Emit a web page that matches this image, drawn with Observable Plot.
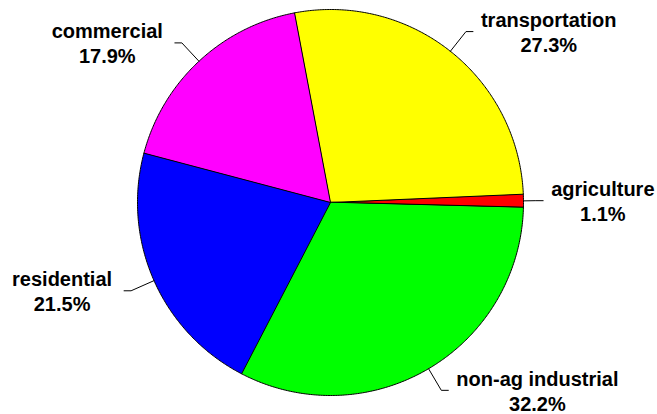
<!DOCTYPE html>
<html>
<head>
<meta charset="utf-8">
<script src="https://cdn.jsdelivr.net/npm/d3@7"></script>
<script src="https://cdn.jsdelivr.net/npm/@observablehq/plot@0.6"></script>
<style>
  html, body { margin: 0; padding: 0; background: #fff; }
  svg { display: block; }
</style>
</head>
<body>
<div id="chart"></div>
<script>
// ---- data ----
const categories = ["agriculture", "transportation", "commercial", "residential", "non-ag industrial"];
const shares = [1.1, 27.3, 17.9, 21.5, 32.2];
const colors = ["#ff0000", "#ffff00", "#ff00ff", "#0000ff", "#00ff00"];

// ---- layout ----
const W = 657, H = 414;
const CX = 330, CY = 202, R = 193;
const START = -1.5; // degrees, counter-clockwise from 3 o'clock
const FONT = "bold 20px 'Liberation Sans', Arial, sans-serif";

const total = d3.sum(shares);
const rad = d => d * Math.PI / 180;

const slicePts = [];
const labels = [];
const leaders = [];
let a = START;
const ctx = document.createElement("canvas").getContext("2d");
ctx.font = FONT;
categories.forEach((name, i) => {
  const span = shares[i] / total * 360;
  const a0 = a, a1 = a + span;
  slicePts.push({name, color: colors[i], x: 0, y: 0});
  const n = Math.max(2, Math.ceil(span / 0.5));
  for (let k = 0; k <= n; k++) {
    const t = rad(a0 + span * k / n);
    slicePts.push({name, color: colors[i], x: Math.cos(t), y: Math.sin(t)});
  }
  const mid = rad(a0 + span / 2);
  const right = Math.cos(mid) >= 0;
  const sgn = right ? 1 : -1;
  const gap = right ? 8 : 12;
  const w = ctx.measureText(name).width;
  let re = 1.13;
  let ex = re * Math.cos(mid), ey = re * Math.sin(mid);
  let hx = ex + sgn * 7 / R;
  // keep the label inside the picture
  const over = (CX + R * hx + sgn * (gap + w)) - (right ? W - 3 : 3);
  if (sgn * over > 0) {
    hx -= over / R;
    ex = hx - sgn * 8 / R;
    if (sgn * ex < sgn * Math.cos(mid)) ex = Math.cos(mid);
  }
  leaders.push({name, x: Math.cos(mid), y: Math.sin(mid)});
  leaders.push({name, x: ex, y: ey});
  leaders.push({name, x: hx, y: ey});
  const text = `${name}\n${shares[i].toFixed(1)}%`;
  labels.push({text, x: hx + sgn * (gap + w / 2) / R, y: ey});
  a = a1;
});

const chart = Plot.plot({
  width: W,
  height: H,
  margin: 0,
  x: {domain: [-CX / R, (W - CX) / R], range: [0, W], axis: null},
  y: {domain: [-(H - CY) / R, CY / R], range: [H, 0], axis: null},
  style: {background: "#fff"},
  marks: [
    Plot.line(slicePts, {x: "x", y: "y", z: "name", fill: "color", stroke: "#000", strokeWidth: 1, curve: "linear-closed"}),
    Plot.line(leaders, {x: "x", y: "y", z: "name", stroke: "#000", strokeWidth: 1}),
    Plot.text(labels, {x: "x", y: "y", text: "text", textAnchor: "middle", lineAnchor: "middle",
      lineHeight: 1.25, fontSize: 20, fontWeight: "bold", fill: "#000",
      fontFamily: "'Liberation Sans', Arial, sans-serif"})
  ]
});
document.getElementById("chart").appendChild(chart);
</script>
</body>
</html>
